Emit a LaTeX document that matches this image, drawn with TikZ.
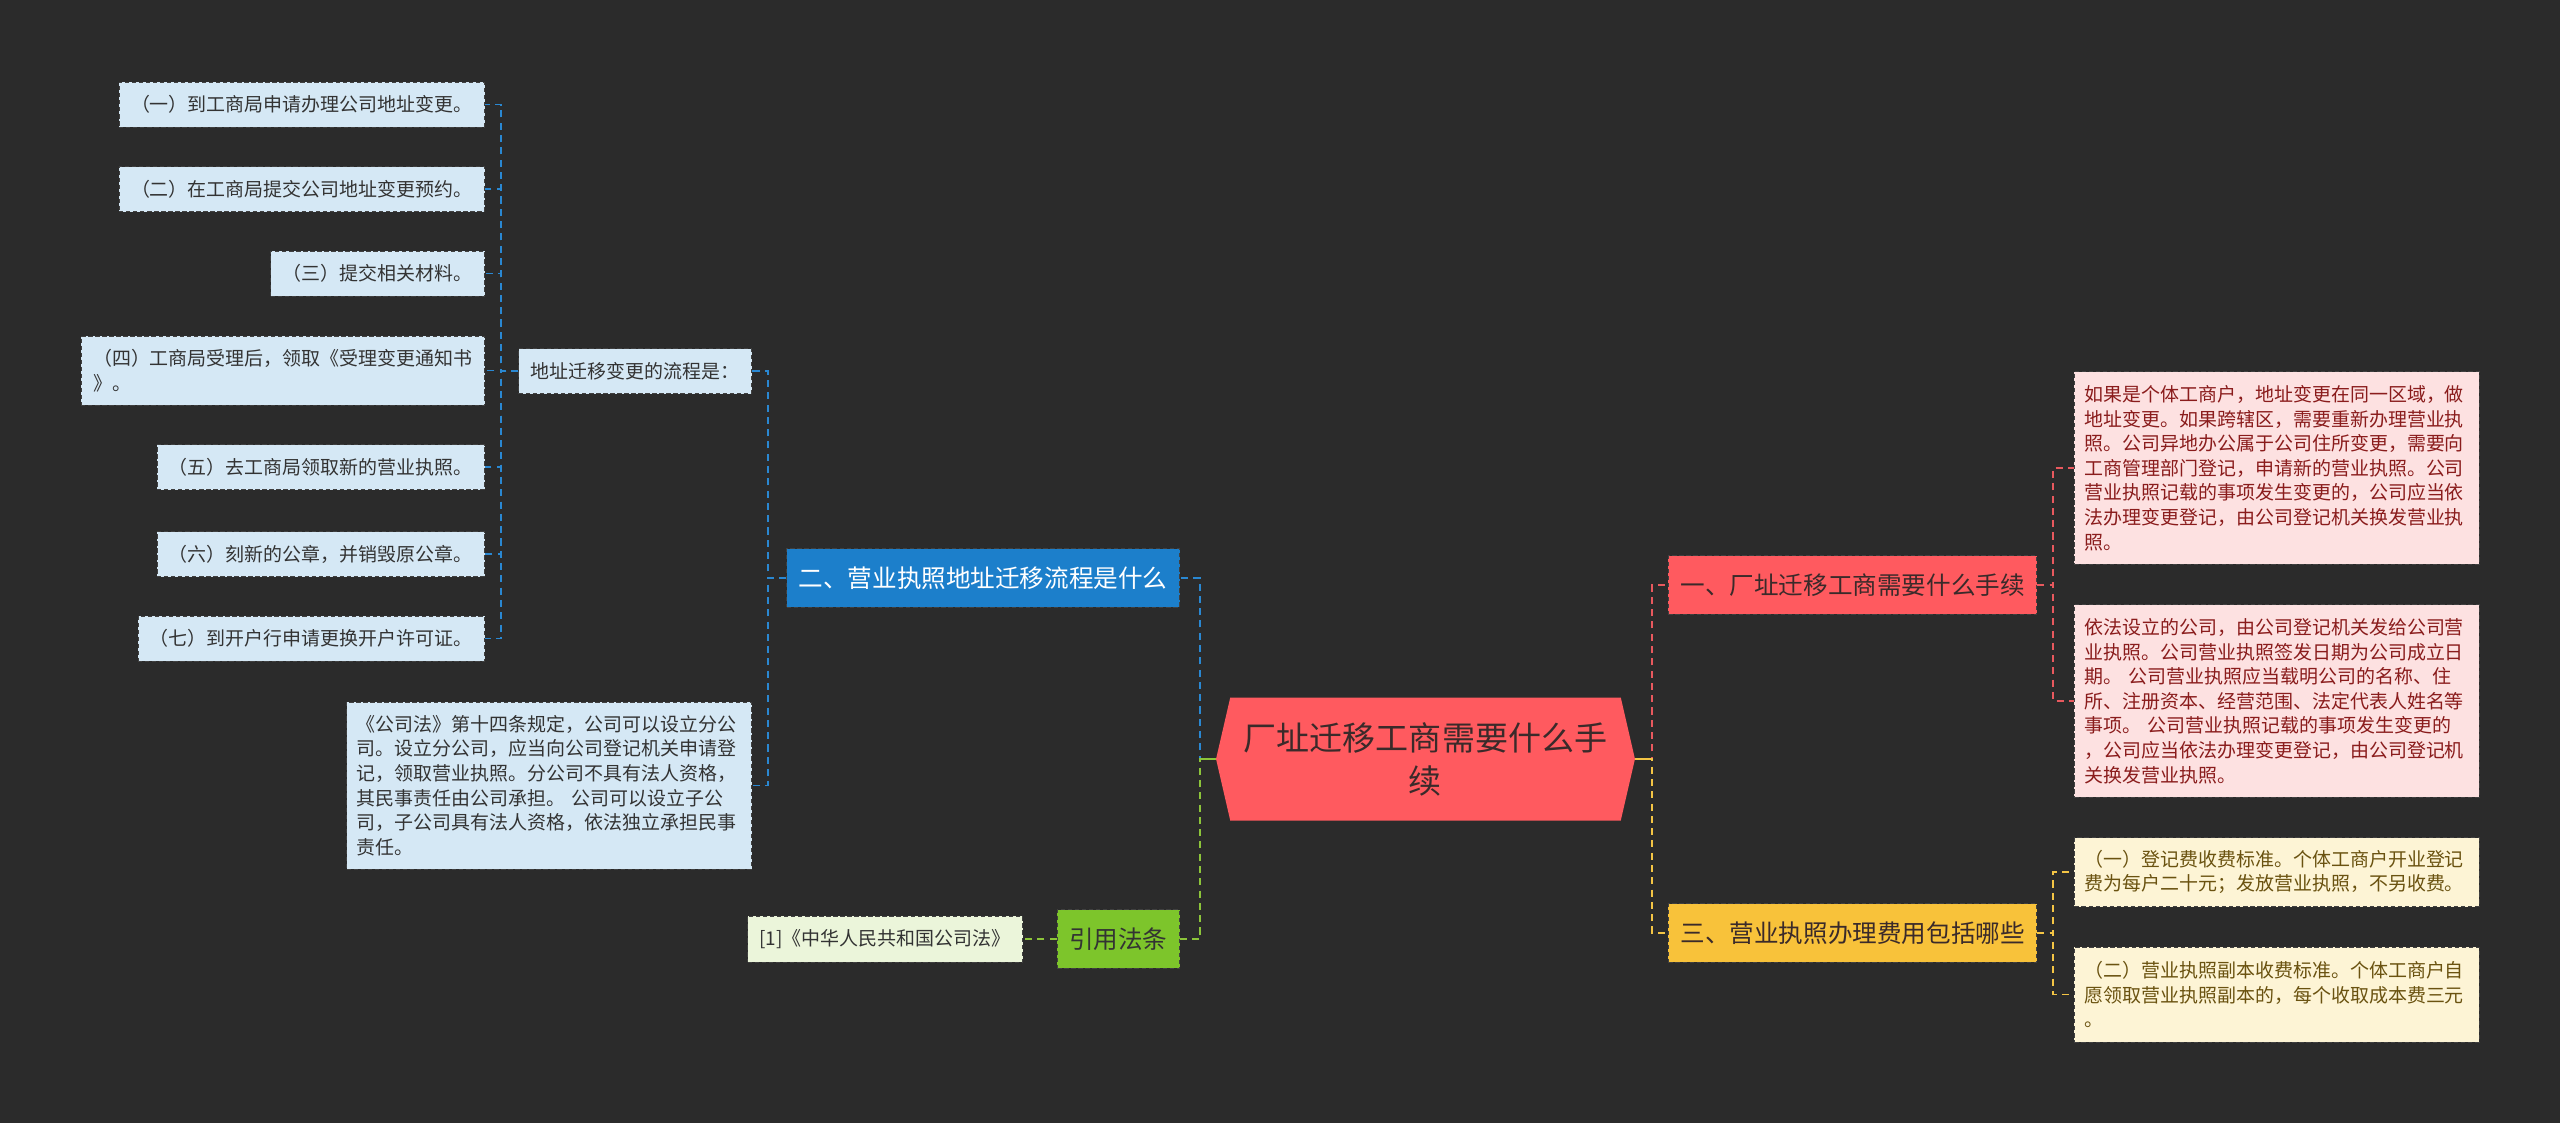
\documentclass[tikz,border=0pt]{standalone}
\usepackage{xcolor}
\usepackage{fontspec}
\setmainfont{Noto Sans CJK SC}
\usepackage{tikz}
\usetikzlibrary{shapes.symbols}
\definecolor{bgdark}{HTML}{2B2B2B}
\definecolor{rootred}{HTML}{FF5A5F}
\definecolor{rootink}{HTML}{3A2A2A}
\definecolor{skyfill}{HTML}{D5E8F5}
\definecolor{bluebar}{HTML}{1C7FCB}
\definecolor{blueline}{HTML}{2A88D2}
\definecolor{pinkfill}{HTML}{FDE1E1}
\definecolor{pinkink}{HTML}{8A1C1C}
\definecolor{redline}{HTML}{E8595E}
\definecolor{goldbar}{HTML}{F8C23A}
\definecolor{goldline}{HTML}{F4C545}
\definecolor{creamfill}{HTML}{FDF4D5}
\definecolor{creamink}{HTML}{6A5210}
\definecolor{limebar}{HTML}{7DC52B}
\definecolor{limeline}{HTML}{8CC53A}
\definecolor{limefill}{HTML}{EBF5DA}
\definecolor{inkdark}{HTML}{333333}
\tikzset{
  box/.style={draw=black!75, line width=0.5pt, dash pattern=on 2.5pt off 1.5pt,
    inner xsep=0.24cm, inner ysep=0pt, minimum height=0.9cm, align=left,
    text=inkdark, font=\fontsize{10.8pt}{14pt}\selectfont},
  skybox/.style={box, fill=skyfill},
  pinkbox/.style={box, fill=pinkfill, text=pinkink, text width=7.7cm, inner xsep=0.2cm},
  creambox/.style={box, fill=creamfill, text=creamink, text width=7.7cm, inner xsep=0.2cm},
  bar/.style={box, minimum height=1.17cm, font=\fontsize{14pt}{17pt}\selectfont},
  link/.style={line width=1.1pt, dash pattern=on 4pt off 3pt},
  stub/.style={line width=1.4pt}
}
\begin{document}
\begin{tikzpicture}[x=0.02cm, y=-0.02cm]
\fill[bgdark] (0,0) rectangle (2560,1123);
\useasboundingbox (0,0) rectangle (2560,1123);
\node[signal, signal to=west and east, signal pointer angle=154, fill=rootred,
  minimum width=8.38cm, minimum height=2.46cm, align=center, text=rootink,
  font=\fontsize{18.8pt}{24.5pt}\selectfont] (root) at (1425.5,759) {厂址迁移工商需要什么手\\续};
\node[bar, fill=bluebar, text=white, anchor=east] (b2) at (1180,578) {二、营业执照地址迁移流程是什么};
\node[bar, fill=limebar, anchor=east] (ref) at (1180,939) {引用法条};
\node[bar, fill=rootred, text=rootink, anchor=west] (b1) at (1668,585) {一、厂址迁移工商需要什么手续};
\node[bar, fill=goldbar, text=rootink, anchor=west] (b3) at (1668,933) {三、营业执照办理费用包括哪些};
\node[skybox, anchor=east] (hub) at (752,371) {地址迁移变更的流程是：};
\node[skybox, anchor=east] (l1) at (485,104.5) {（一）到工商局申请办理公司地址变更。};
\node[skybox, anchor=east] (l2) at (485,189) {（二）在工商局提交公司地址变更预约。};
\node[skybox, anchor=east] (l3) at (485,273.5) {（三）提交相关材料。};
\node[skybox, anchor=east, minimum height=1.38cm] (l4) at (485,370.5) {（四）工商局受理后，领取《受理变更通知书\\》。};
\node[skybox, anchor=east] (l5) at (485,467) {（五）去工商局领取新的营业执照。};
\node[skybox, anchor=east] (l6) at (485,554) {（六）刻新的公章，并销毁原公章。};
\node[skybox, anchor=east] (l7) at (485,638.5) {（七）到开户行申请更换开户许可证。};
\node[skybox, anchor=east, text width=7.7cm, inner xsep=0.2cm, minimum height=3.34cm] (law) at (752,785.5)
  {《公司法》第十四条规定，公司可以设立分公\\司。设立分公司，应当向公司登记机关申请登\\记，领取营业执照。分公司不具有法人资格，\\其民事责任由公司承担。 公司可以设立子公\\司，子公司具有法人资格，依法独立承担民事\\责任。};
\node[box, fill=limefill, anchor=east, minimum height=0.92cm] (cite) at (1023,939) {[1]《中华人民共和国公司法》};
\node[pinkbox, anchor=west, minimum height=3.86cm] (p1) at (2074,468)
  {如果是个体工商户，地址变更在同一区域，做\\地址变更。如果跨辖区，需要重新办理营业执\\照。公司异地办公属于公司住所变更，需要向\\工商管理部门登记，申请新的营业执照。公司\\营业执照记载的事项发生变更的，公司应当依\\法办理变更登记，由公司登记机关换发营业执\\照。};
\node[pinkbox, anchor=west, minimum height=3.86cm] (p2) at (2074,701)
  {依法设立的公司，由公司登记机关发给公司营\\业执照。公司营业执照签发日期为公司成立日\\期。 公司营业执照应当载明公司的名称、住\\所、注册资本、经营范围、法定代表人姓名等\\事项。 公司营业执照记载的事项发生变更的\\，公司应当依法办理变更登记，由公司登记机\\关换发营业执照。};
\node[creambox, anchor=west, minimum height=1.38cm] (y1) at (2074,872)
  {（一）登记费收费标准。个体工商户开业登记\\费为每户二十元；发放营业执照，不另收费。};
\node[creambox, anchor=west, minimum height=1.9cm] (y2) at (2074,994.5)
  {（二）营业执照副本收费标准。个体工商户自\\愿领取营业执照副本的，每个收取成本费三元\\。};
\draw[link, blueline] (hub.west) -- ++(-17,0) |- (l1.east);
\draw[link, blueline] (hub.west) -- ++(-17,0) |- (l2.east);
\draw[link, blueline] (hub.west) -- ++(-17,0) |- (l3.east);
\draw[link, blueline] (hub.west) -- ++(-17,0) |- (l4.east);
\draw[link, blueline] (hub.west) -- ++(-17,0) |- (l5.east);
\draw[link, blueline] (hub.west) -- ++(-17,0) |- (l6.east);
\draw[link, blueline] (hub.west) -- ++(-17,0) |- (l7.east);
\draw[link, blueline] (b2.west) -- ++(-18,0) |- (hub.east);
\draw[link, blueline] (b2.west) -- ++(-18,0) |- (law.east);
\draw[link, blueline] (root.west) -- ++(-16,0) |- (b2.east);
\draw[link, limeline] (root.west) -- ++(-16,0) |- (ref.east);
\draw[stub, limeline] (root.west) -- ++(-16,0);
\draw[link, limeline] (ref.west) -- (cite.east);
\draw[link, redline] (root.east) -- ++(17,0) |- (b1.west);
\draw[link, goldline] (root.east) -- ++(17,0) |- (b3.west);
\draw[stub, goldline] (root.east) -- ++(17,0);
\draw[link, redline] (b1.east) -- ++(16,0) |- (p1.west);
\draw[link, redline] (b1.east) -- ++(16,0) |- (p2.west);
\draw[link, goldline] (b3.east) -- ++(16,0) |- (y1.west);
\draw[link, goldline] (b3.east) -- ++(16,0) |- (y2.west);
\end{tikzpicture}
\end{document}
